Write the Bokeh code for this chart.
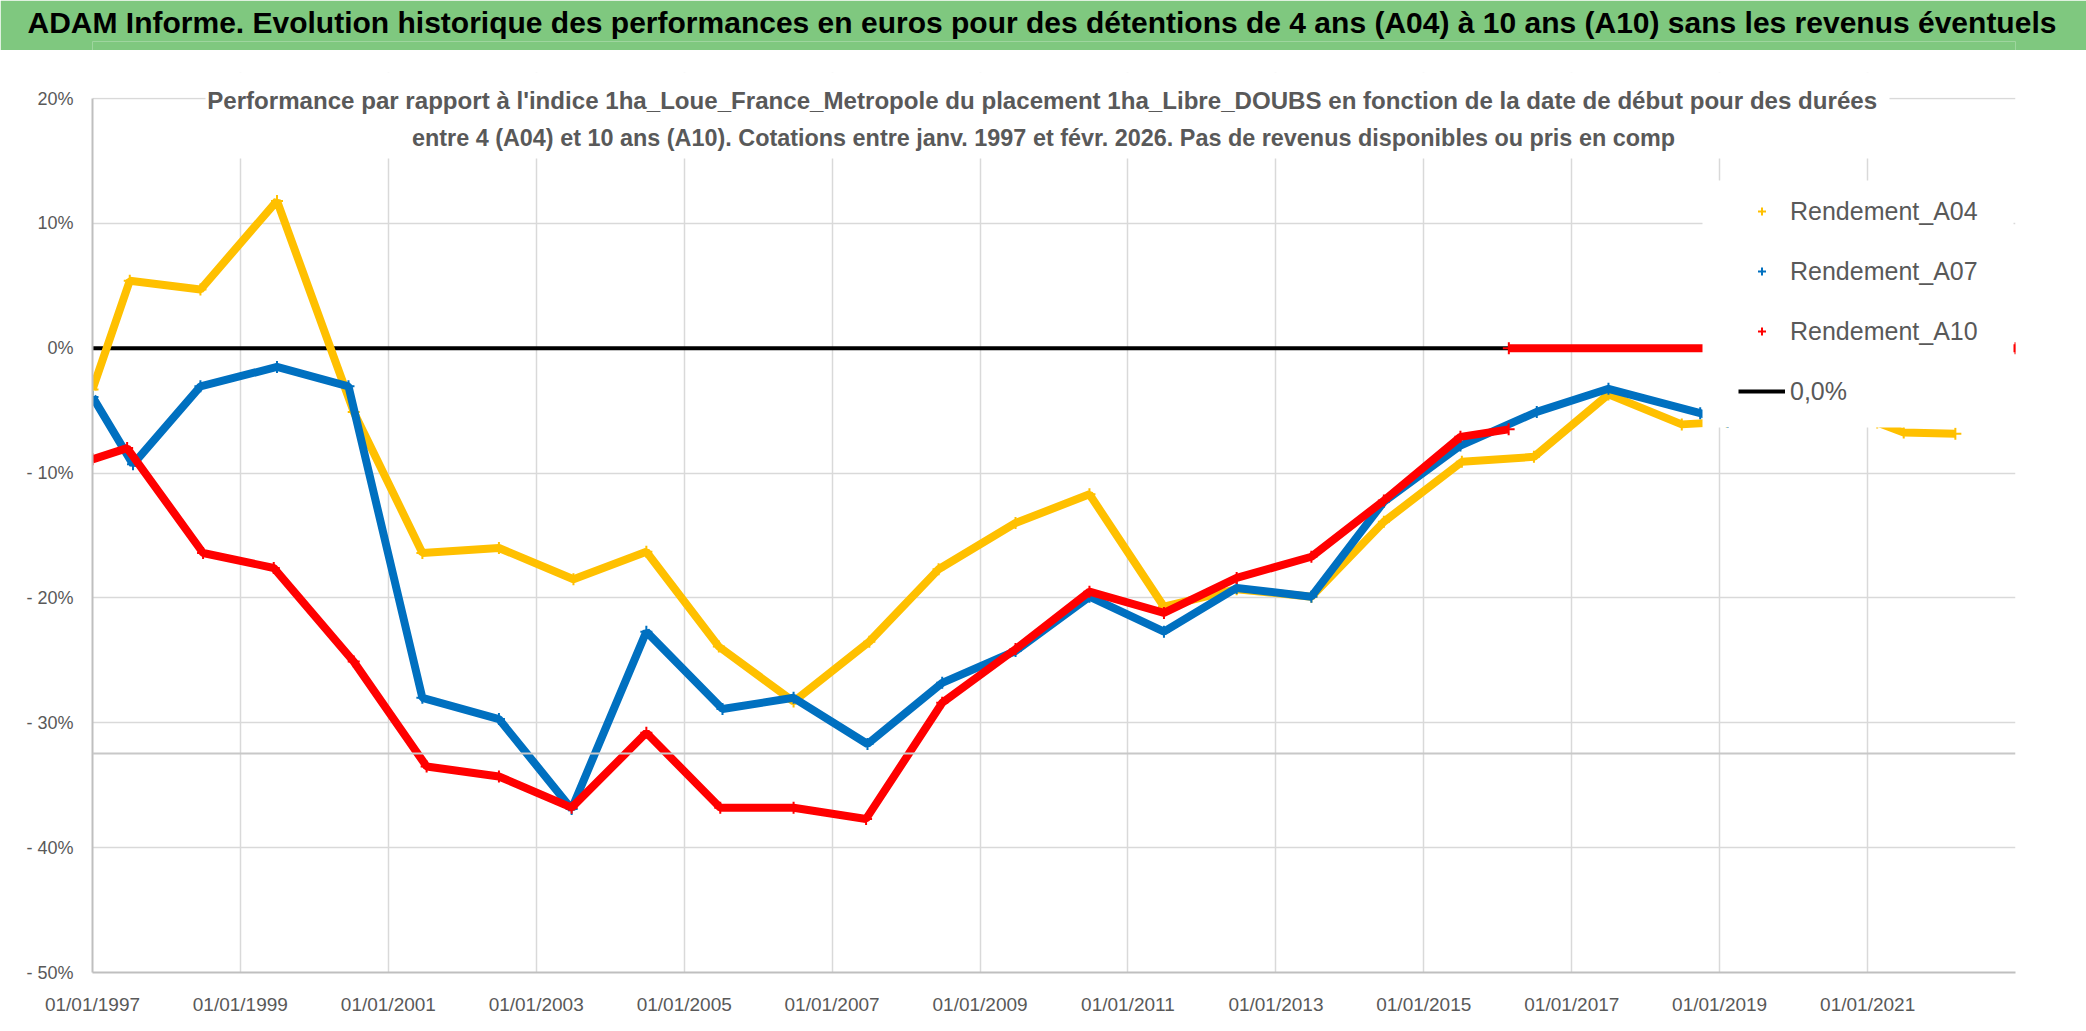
import numpy as np
import pandas as pd
from bokeh.plotting import figure
from bokeh.models import (ColumnDataSource, FixedTicker, DatetimeTickFormatter, Range1d,
                          Legend, LegendItem, BoxAnnotation, Span, Label, Title)
from bokeh.layouts import column
from bokeh.embed import file_html
from bokeh.resources import INLINE

# ---------------- texts ----------------
TITLE = ("ADAM Informe. Evolution historique des performances en euros pour des "
         "détentions de 4 ans (A04) à 10 ans (A10) sans les revenus éventuels")
SUB1 = ("Performance par rapport à l'indice 1ha_Loue_France_Metropole  du placement "
        "1ha_Libre_DOUBS en fonction de la date de début pour des durées")
SUB2 = ("entre 4 (A04) et 10 ans (A10). Cotations entre janv. 1997 et févr. 2026. "
        "Pas de revenus disponibles ou pris en comp")

legend_labels = ["Rendement_A04", "Rendement_A07", "Rendement_A10", "0,0%"]

# ---------------- data (% values) ----------------
a04_dates = ["1997-01-01", "1997-07-04", "1998-06-18", "1999-07-01", "2000-07-14",
             "2001-06-18", "2002-07-01", "2003-07-04", "2004-06-28", "2005-06-21",
             "2006-06-25", "2007-07-04", "2008-06-10", "2009-06-25", "2010-06-25",
             "2011-06-28", "2012-06-21", "2013-06-25", "2014-06-18", "2015-07-08",
             "2016-06-28", "2017-07-01", "2018-06-28", "2019-02-05", "2021-02-17",
             "2021-06-28", "2022-03-10"]
a04_vals = [-3.3, 5.4, 4.7, 11.8, -5.1,
            -16.4, -16.0, -18.5, -16.3, -23.9,
            -28.3, -23.5, -17.7, -14.0, -11.7,
            -20.7, -19.3, -19.9, -13.9, -9.1,
            -8.7, -3.7, -6.1, -5.9, -5.95,
            -6.75, -6.85]

a07_dates = ["1997-01-01", "1997-07-20", "1998-06-18", "1999-07-01", "2000-06-18",
             "2001-06-18", "2002-07-01", "2003-06-25", "2004-06-28", "2005-07-09",
             "2006-06-25", "2007-06-25", "2008-06-28", "2009-06-25", "2010-06-25",
             "2011-06-28", "2012-06-21", "2013-06-25", "2014-06-18", "2015-07-01",
             "2016-07-12", "2017-07-01", "2018-09-27", "2019-02-10"]
a07_vals = [-3.9, -9.3, -3.05, -1.5, -3.05,
            -28.0, -29.7, -36.9, -22.7, -28.9,
            -28.0, -31.7, -26.8, -24.25, -19.9,
            -22.7, -19.2, -19.9, -12.3, -7.8,
            -5.1, -3.25, -5.2, -5.9]

a10_dates = ["1997-01-01", "1997-06-21", "1998-07-01", "1999-06-15", "2000-07-14",
             "2001-07-09", "2002-07-01", "2003-06-25", "2004-06-28", "2005-06-28",
             "2006-06-25", "2007-06-18", "2008-06-28", "2009-06-25", "2010-06-25",
             "2011-06-28", "2012-06-21", "2013-06-25", "2014-06-18", "2015-07-01",
             "2016-02-24", "2016-02-24", "2016-02-25", "2023-01-01"]
a10_vals = [-8.9, -8.0, -16.4, -17.6, -25.1,
            -33.5, -34.3, -36.8, -30.8, -36.8,
            -36.8, -37.7, -28.4, -24.1, -19.5,
            -21.2, -18.4, -16.7, -12.2, -7.1,
            -6.5, np.nan, 0.0, 0.0]

zero_dates = ["1997-01-01", "2016-02-24"]
zero_vals = [0.0, 0.0]

x_ticks = ["1997-01-01", "1999-01-01", "2001-01-01", "2003-01-01", "2005-01-01",
           "2007-01-01", "2009-01-01", "2011-01-01", "2013-01-01", "2015-01-01",
           "2017-01-01", "2019-01-01", "2021-01-01"]
y_ticks = [20, 10, 0, -10, -20, -30, -40, -50]
y_tick_labels = ["20%", "10%", "0%", "- 10%", "- 20%", "- 30%", "- 40%", "- 50%"]

# ---------------- styles / layout ----------------
FONT = "Liberation Sans"
GREY_TXT = "#595959"
GREEN = "#7FC87F"
C_A04, C_A07, C_A10 = "#FFC000", "#0070C0", "#FF0000"

W = 2086
BAND_H = 50
H = 1031 - BAND_H
X0, X1 = pd.Timestamp("1997-01-01"), pd.Timestamp("2023-01-01")
Y0 = -50
PAGE_LEFT, PAGE_RIGHT, PAGE_TOP, PAGE_BOTTOM = 92, 2015, 72, 972   # frame in page px
PX_PER_PCT = (972 - 98) / 70.0                                        # 20% .. -50%
FL, FR = PAGE_LEFT, W - PAGE_RIGHT
FT, FB = PAGE_TOP - BAND_H, 1031 - PAGE_BOTTOM
FW, FH = W - FL - FR, H - FT - FB
Y1 = Y0 + FH / PX_PER_PCT

def ms(t):
    return pd.Timestamp(t).value / 1e6

def px_x(px):   # page pixel -> data x (ms)
    return ms(X0) + (px - PAGE_LEFT) / FW * (ms(X1) - ms(X0))

def px_y(py):   # page pixel -> data y
    return Y0 + (PAGE_BOTTOM - py) / PX_PER_PCT

# ---------------- title band ----------------
top = figure(width=W, height=BAND_H, output_backend="svg", toolbar_location=None,
             x_range=Range1d(0, 1), y_range=Range1d(0, 1),
             x_axis_location=None, y_axis_location=None, min_border=0)
top.grid.visible = False
top.background_fill_color = GREEN
top.border_fill_color = GREEN
top.outline_line_color = None
top.add_layout(Title(text=TITLE, align="left", offset=27 - PAGE_LEFT, standoff=6,
                     text_font=FONT, text_font_size="30px", text_font_style="bold",
                     text_color="black"), "above")

# ---------------- main chart ----------------
p = figure(width=W, height=H, x_axis_type="datetime", output_backend="svg",
           toolbar_location=None, x_range=Range1d(X0, X1), y_range=Range1d(Y0, Y1),
           min_border_left=FL, min_border_right=FR, min_border_top=FT, min_border_bottom=FB)
p.background_fill_color = "white"
p.border_fill_color = "white"
p.outline_line_color = None

tick_ms = [ms(t) for t in x_ticks]
p.xaxis.ticker = FixedTicker(ticks=tick_ms)
p.xgrid.ticker = FixedTicker(ticks=tick_ms)
fmt = "%d/%m/%Y"
p.xaxis.formatter = DatetimeTickFormatter(milliseconds=fmt, seconds=fmt, minsec=fmt, minutes=fmt,
                                          hourmin=fmt, hours=fmt, days=fmt, months=fmt, years=fmt)
p.yaxis.ticker = FixedTicker(ticks=y_ticks)
p.ygrid.ticker = FixedTicker(ticks=y_ticks)
p.yaxis.major_label_overrides = dict(zip(y_ticks, y_tick_labels))
p.yaxis.bounds = (-50, 20)

for ax in (p.xaxis, p.yaxis):
    ax.major_tick_out = 0
    ax.major_tick_in = 0
    ax.minor_tick_out = 0
    ax.minor_tick_in = 0
    ax.axis_line_color = "#BFBFBF"
    ax.axis_line_width = 2
    ax.major_label_text_color = GREY_TXT
    ax.major_label_text_font = FONT
p.xaxis.major_label_text_font_size = "19px"
p.yaxis.major_label_text_font_size = "18px"
p.xaxis.major_label_standoff = 21
p.yaxis.major_label_standoff = 19
p.grid.grid_line_color = "#D9D9D9"
p.grid.grid_line_width = 1.5

# stray horizontal rule visible in the picture
p.add_layout(Span(location=px_y(753), dimension="width", line_color="#C8C8C8", line_width=2))

def src(d, v):
    return ColumnDataSource(dict(x=pd.to_datetime(d), y=v))

s04, s07, s10, s0 = src(a04_dates, a04_vals), src(a07_dates, a07_vals), src(a10_dates, a10_vals), src(zero_dates, zero_vals)

LW = 8
r0 = p.line("x", "y", source=s0, line_color="black", line_width=4)
p.line("x", "y", source=s04, line_color=C_A04, line_width=LW)
m04 = p.scatter("x", "y", source=s04, marker="cross", size=12, line_width=2, color=C_A04)
p.line("x", "y", source=s07, line_color=C_A07, line_width=LW)
m07 = p.scatter("x", "y", source=s07, marker="cross", size=12, line_width=2, color=C_A07)
p.line("x", "y", source=s10, line_color=C_A10, line_width=LW)
m10 = p.scatter("x", "y", source=s10, marker="cross", size=12, line_width=2, color=C_A10)

# white area above the 20% line (plot area starts there)
p.add_layout(BoxAnnotation(bottom=px_y(97), fill_color="white", fill_alpha=1, line_color=None))
# white box behind the subtitle
p.add_layout(BoxAnnotation(left=px_x(205), right=px_x(1889), bottom=px_y(158),
                           fill_color="white", fill_alpha=1, line_color=None))
p.add_layout(Label(x=px_x(1045), y=px_y(100), text=SUB1, text_align="center", text_baseline="middle",
                   text_font=FONT, text_font_size="24.1px", text_font_style="bold", text_color=GREY_TXT))
p.add_layout(Label(x=px_x(1043), y=px_y(137), text=SUB2, text_align="center", text_baseline="middle",
                   text_font=FONT, text_font_size="23.4px", text_font_style="bold", text_color=GREY_TXT))

# white box behind the legend
p.add_layout(BoxAnnotation(left=px_x(1702), right=px_x(2013), bottom=px_y(427), top=px_y(180),
                           fill_color="white", fill_alpha=1, line_color=None))

legend = Legend(items=[LegendItem(label=legend_labels[0], renderers=[m04]),
                       LegendItem(label=legend_labels[1], renderers=[m07]),
                       LegendItem(label=legend_labels[2], renderers=[m10]),
                       LegendItem(label=legend_labels[3], renderers=[r0])],
                location=(1738 - PAGE_LEFT, PAGE_BOTTOM - 411), orientation="vertical",
                padding=0, margin=0, spacing=20, glyph_width=47, glyph_height=20,
                label_height=40, label_standoff=5,
                label_text_font=FONT, label_text_font_size="25px", label_text_color=GREY_TXT,
                background_fill_alpha=0, border_line_color=None)
p.add_layout(legend)

layout = column(top, p, spacing=0)
open("out.html", "w").write(file_html(layout, INLINE))
